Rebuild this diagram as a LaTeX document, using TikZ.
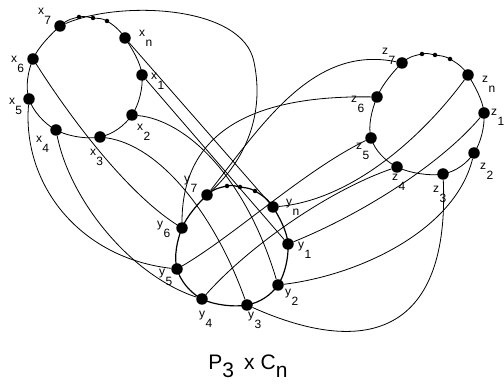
\documentclass[tikz,border=0pt]{standalone}
\usepackage{fontspec}
\setmainfont{Liberation Sans}
\usetikzlibrary{positioning}
\tikzset{
  vtx/.style={circle,fill=black,inner sep=0pt,minimum size=11.5pt},
  gapdot/.style={circle,fill=black,inner sep=0pt,minimum size=4.5pt},
  vlab/.style={inner sep=0pt,anchor=mid west,font=\fontsize{12}{12}\selectfont},
  edge/.style={line width=0.8pt},
}
\newcommand{\vl}[2]{#1\kern0.3pt\raisebox{-9.5pt}{#2}}

\begin{document}
\begin{tikzpicture}[x=1pt,y=-1pt]
\useasboundingbox (0,0) rectangle (504,387);
% copy x
\node[vtx] (x7) at (60,26) {};
\node[vtx] (xn) at (125,38) {};
\node[vtx] (x1) at (142,75) {};
\node[vtx] (x2) at (132,115) {};
\node[vtx] (x3) at (100,137) {};
\node[vtx] (x4) at (56,130) {};
\node[vtx] (x5) at (29,99) {};
\node[vtx] (x6) at (33,59) {};
\node[gapdot] (gx1) at (79,17) {};
\node[gapdot] (gx2) at (93,18) {};
\node[gapdot] (gx3) at (107,21) {};
% copy y
\node[vtx] (y7) at (207,195) {};
\node[vtx] (yn) at (273,207) {};
\node[vtx] (y1) at (288,244) {};
\node[vtx] (y2) at (278,285) {};
\node[vtx] (y3) at (247,305) {};
\node[vtx] (y4) at (202,299) {};
\node[vtx] (y5) at (177,269) {};
\node[vtx] (y6) at (182,228) {};
\node[gapdot] (gy1) at (227,186) {};
\node[gapdot] (gy2) at (240,187) {};
\node[gapdot] (gy3) at (255,191) {};
% copy z
\node[vtx] (z7) at (402,63) {};
\node[vtx] (zn) at (468,75) {};
\node[vtx] (z1) at (484,113) {};
\node[vtx] (z2) at (474,153) {};
\node[vtx] (z3) at (443,174) {};
\node[vtx] (z4) at (397,167) {};
\node[vtx] (z5) at (371,138) {};
\node[vtx] (z6) at (377,97) {};
\node[gapdot] (gz1) at (422,54) {};
\node[gapdot] (gz2) at (435,55) {};
\node[gapdot] (gz3) at (450,59) {};
% cycles
\draw[edge] plot[smooth cycle,tension=0.6] coordinates {(x7) (gx1) (gx2) (gx3) (xn) (x1) (x2) (x3) (x4) (x5) (x6)};
\draw[line width=1.2pt] plot[smooth cycle,tension=0.6] coordinates {(y7) (gy1) (gy2) (gy3) (yn) (y1) (y2) (y3) (y4) (y5) (y6)};
\draw[edge] plot[smooth cycle,tension=0.6] coordinates {(z7) (gz1) (gz2) (gz3) (zn) (z1) (z2) (z3) (z4) (z5) (z6)};
% x--y
\draw[edge] (x7) .. controls (120,0) and (243,5) .. (254,62) .. controls (265,115) and (245,160) .. (y7);
\draw[edge] (xn) -- (yn);
\draw[edge] (x1) -- (y1);
\draw[edge] (x2) .. controls (185,120) and (245,175) .. (y2);
\draw[edge] (x3) .. controls (160,145) and (215,215) .. (y3);
\draw[edge] (x4) .. controls (70,200) and (130,275) .. (y4);
\draw[edge] (x5) .. controls (22,185) and (80,258) .. (y5);
\draw[edge] (x6) .. controls (75,125) and (130,195) .. (y6);
% y--z
\draw[edge] (y7) .. controls (265,120) and (315,45) .. (z7);
\draw[edge] (y6) .. controls (182,140) and (240,95) .. (z6);
\draw[edge] (yn) .. controls (350,200) and (420,140) .. (zn);
\draw[edge] (y5) .. controls (235,235) and (305,170) .. (z5);
\draw[edge] (y4) .. controls (250,245) and (330,190) .. (z4);
\draw[edge] (y1) .. controls (360,215) and (440,165) .. (z1);
\draw[edge] (y2) .. controls (360,275) and (455,230) .. (z2);
\draw[edge] (y3) .. controls (370,360) and (450,330) .. (z3);
% labels
\node[vlab] (lx7) at (38,12) {\vl{x}{7}};
\node[vlab] (lxn) at (139,34) {\vl{x}{n}};
\node[vlab] (lx1) at (151,77) {\vl{x}{1}};
\node[vlab] (lx2) at (137,128) {\vl{x}{2}};
\node[vlab] (lx3) at (90,153) {\vl{x}{3}};
\node[vlab] (lx4) at (36,140) {\vl{x}{4}};
\node[vlab] (lx5) at (9,102) {\vl{x}{5}};
\node[vlab] (lx6) at (11,60) {\vl{x}{6}};
\node[vlab] (ly7) at (184,180) {\vl{y}{7}};
\node[vlab] (lyn) at (286,203) {\vl{y}{n}};
\node[vlab] (ly1) at (298,246) {\vl{y}{1}};
\node[vlab] (ly2) at (285,293) {\vl{y}{2}};
\node[vlab] (ly3) at (248,316) {\vl{y}{3}};
\node[vlab] (ly4) at (199,315) {\vl{y}{4}};
\node[vlab] (ly5) at (159,273) {\vl{y}{5}};
\node[vlab] (ly6) at (157,225) {\vl{y}{6}};
\node[vlab] (lz7) at (382,52) {\vl{z}{7}};
\node[vlab] (lzn) at (482,80) {\vl{z}{n}};
\node[vlab] (lz1) at (491,113) {\vl{z}{1}};
\node[vlab] (lz2) at (480,167) {\vl{z}{2}};
\node[vlab] (lz3) at (433,190) {\vl{z}{3}};
\node[vlab] (lz4) at (392,178) {\vl{z}{4}};
\node[vlab] (lz5) at (356,147) {\vl{z}{5}};
\node[vlab] (lz6) at (351,100) {\vl{z}{6}};
\node[anchor=base,inner sep=0pt,font=\fontsize{21}{21}\selectfont] (title) at (248,370)
  {P\raisebox{-8pt}{3}\kern10pt x\kern6pt C\raisebox{-8pt}{n}};
\end{tikzpicture}
\end{document}
